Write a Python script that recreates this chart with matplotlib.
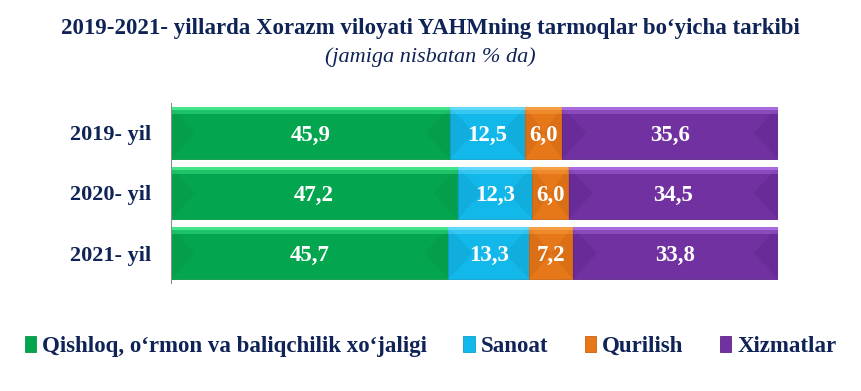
import matplotlib.pyplot as plt
from matplotlib.patches import Polygon, Rectangle
import numpy as np

plt.rcParams['font.family'] = ['Liberation Serif', 'DejaVu Serif']

years = ['2019- yil', '2020- yil', '2021- yil']
sectors = ['Qishloq, o‘rmon va baliqchilik xo‘jaligi', 'Sanoat', 'Qurilish', 'Xizmatlar']
agri = [45.9, 47.2, 45.7]
industry = [12.5, 12.3, 13.3]
building = [6.0, 6.0, 7.2]
services = [35.6, 34.5, 33.8]

colors = ['#03A64F', '#13B8EA', '#E6781A', '#7131A1']
tops = ['#49EE90', '#6ADDFF', '#FBA448', '#B070E6']
sides = ['#0A9446', '#0C9ECB', '#C9620E', '#5E2489']
navy = '#0F2356'

fig = plt.figure(figsize=(8.61, 3.91), dpi=100)
ax = fig.add_axes([0.1986, 0.276, 0.7050, 0.461])

series = [agri, industry, building, services]
y = np.arange(len(years))
left = np.zeros(len(years))
bar_h = 0.867
for vals, col, top, side, name in zip(series, colors, tops, sides, sectors):
    bars = ax.barh(y, vals, left=left, height=bar_h, color=col, label=name,
                   edgecolor=side, linewidth=0.6)
    for b, v in zip(bars, vals):
        x0, y0 = b.get_x(), b.get_y()
        w, h = b.get_width(), b.get_height()
        dx = min(4.0, w / 2)
        # bevel: side triangles and light top strip (y axis is inverted)
        ax.add_patch(Polygon([(x0, y0), (x0 + dx, y0 + h / 2), (x0, y0 + h)],
                             closed=True, color=side, alpha=0.4, lw=0))
        ax.add_patch(Polygon([(x0 + w, y0), (x0 + w - dx, y0 + h / 2), (x0 + w, y0 + h)],
                             closed=True, color=side, alpha=0.4, lw=0))
        ax.add_patch(Rectangle((x0, y0), w, h * 0.06, color=top, alpha=0.9, lw=0))
        ax.add_patch(Rectangle((x0, y0 + h * 0.06), w, h * 0.08, color=top,
                               alpha=0.4, lw=0))
        ax.text(x0 + w / 2, y0 + h / 2, f'{v:.1f}'.replace('.', ','),
                ha='center', va='center_baseline', color='white', fontsize=16.5,
                fontweight='bold')
    left += np.array(vals)

ax.set_xlim(0, 100)
ax.set_ylim(len(years) - 0.5, -0.5)
ax.set_yticks(y)
ax.set_yticklabels(years, fontsize=16, fontweight='bold', color=navy)
ax.tick_params(axis='y', length=0, pad=14)
ax.set_xticks([])
for s in ['top', 'right', 'bottom']:
    ax.spines[s].set_visible(False)
ax.spines['left'].set_color('#8C8C8C')

fig.text(0.5, 0.928, '2019-2021- yillarda Xorazm viloyati YAHMning tarmoqlar bo‘yicha tarkibi',
         ha='center', va='center', fontsize=16.5, fontweight='bold', color=navy)
fig.text(0.5, 0.855, '(jamiga nisbatan % da)', ha='center', va='center',
         fontsize=16, style='italic', color=navy)

handles, labels = ax.get_legend_handles_labels()
fig.legend(handles, labels, loc='center', bbox_to_anchor=(0.5, 0.115), ncol=4,
           frameon=False, handlelength=0.5, handleheight=0.7, handletextpad=0.25,
           columnspacing=1.6,
           prop={'family': 'Liberation Serif', 'weight': 'bold', 'size': 16.5},
           labelcolor=navy)

fig.savefig('out.png', dpi=100)
